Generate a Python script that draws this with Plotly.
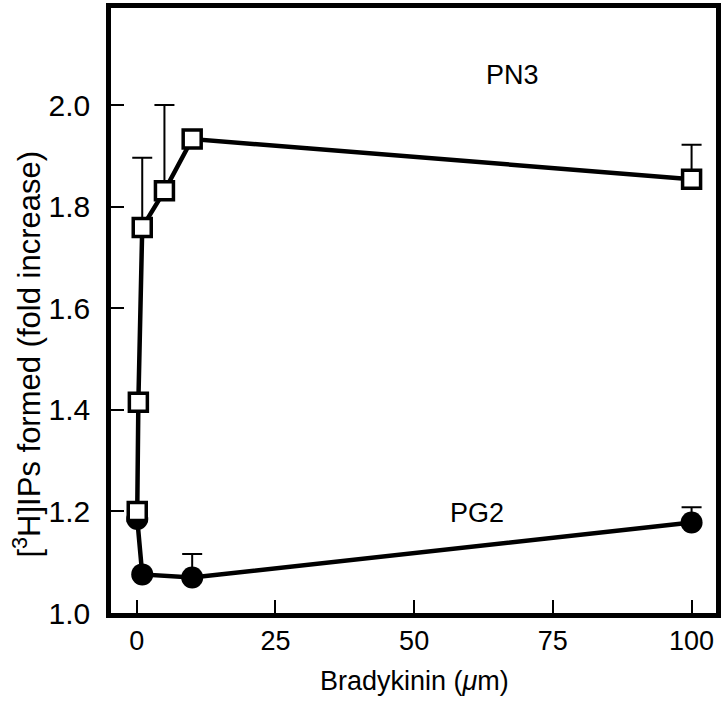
import plotly.graph_objects as go

# Data
pn3_x = [0.1, 0.3, 1, 5, 10, 100]
pn3_y = [1.200, 1.415, 1.759, 1.831, 1.933, 1.854]
pn3_err = [0, 0, 0.137, 0.169, 0, 0.068]

pg2_x = [0.1, 1, 10, 100]
pg2_y = [1.185, 1.076, 1.070, 1.178]
pg2_err = [0, 0, 0.046, 0.030]

x_ticks = [0, 25, 50, 75, 100]
y_ticks = [1.0, 1.2, 1.4, 1.6, 1.8, 2.0]
y_tick_labels = ["1.0", "1.2", "1.4", "1.6", "1.8", "2.0"]

x_title = "Bradykinin (<i>μ</i>m)"
y_title = "[<sup>3</sup>H]IPs formed (fold increase)"

FONT = "Liberation Sans, Arial, Helvetica, sans-serif"

fig = go.Figure()

fig.add_trace(go.Scatter(
    x=pg2_x, y=pg2_y, mode="lines+markers", name="PG2",
    line=dict(color="black", width=4.5),
    marker=dict(symbol="circle", size=22, color="black", line=dict(color="black", width=0)),
    error_y=dict(type="data", symmetric=False, array=pg2_err,
                 arrayminus=[0] * len(pg2_err), color="black", thickness=2, width=10),
))

fig.add_trace(go.Scatter(
    x=pn3_x, y=pn3_y, mode="lines+markers", name="PN3",
    line=dict(color="black", width=4.5),
    marker=dict(symbol="square", size=18, color="white", line=dict(color="black", width=3.5)),
    error_y=dict(type="data", symmetric=False, array=pn3_err,
                 arrayminus=[0] * len(pn3_err), color="black", thickness=2, width=10),
))

fig.add_annotation(x=67.8, y=2.06, text="PN3", showarrow=False,
                   font=dict(family=FONT, size=27, color="black"))
fig.add_annotation(x=61.3, y=1.197, text="PG2", showarrow=False,
                   font=dict(family=FONT, size=27, color="black"))

# axis titles placed as paper annotations
fig.add_annotation(xref="paper", yref="paper", x=0.502, y=-0.112, yanchor="middle",
                   text=x_title, showarrow=False,
                   font=dict(family=FONT, size=27, color="black"))
fig.add_annotation(xref="paper", yref="paper", x=-0.138, y=0.428, xanchor="center",
                   text=y_title, showarrow=False, textangle=-90,
                   font=dict(family=FONT, size=31, color="black"))

fig.update_layout(
    width=725, height=714,
    margin=dict(l=111, r=9, t=8, b=101),
    paper_bgcolor="white", plot_bgcolor="white",
    showlegend=False,
    font=dict(family=FONT, color="black"),
    xaxis=dict(
        range=[-4.63, 104.4], tickvals=x_ticks, automargin=False,
        ticks="inside", ticklen=13, tickwidth=2, tickcolor="black",
        showline=True, linewidth=4.5, linecolor="black", mirror=True,
        showgrid=False, zeroline=False,
        tickfont=dict(family=FONT, size=27, color="black"),
    ),
    yaxis=dict(
        range=[1.0, 2.191], tickvals=y_ticks, ticktext=y_tick_labels, automargin=False,
        ticks="inside", ticklen=13, tickwidth=2, tickcolor="black",
        showline=True, linewidth=4.5, linecolor="black", mirror=True,
        showgrid=False, zeroline=False, ticklabelstandoff=10,
        tickfont=dict(family=FONT, size=30, color="black"),
    ),
)

fig.write_html("out.html", config={"displayModeBar": False},
               post_script="document.body.style.margin='0';document.body.style.overflow='hidden';")
